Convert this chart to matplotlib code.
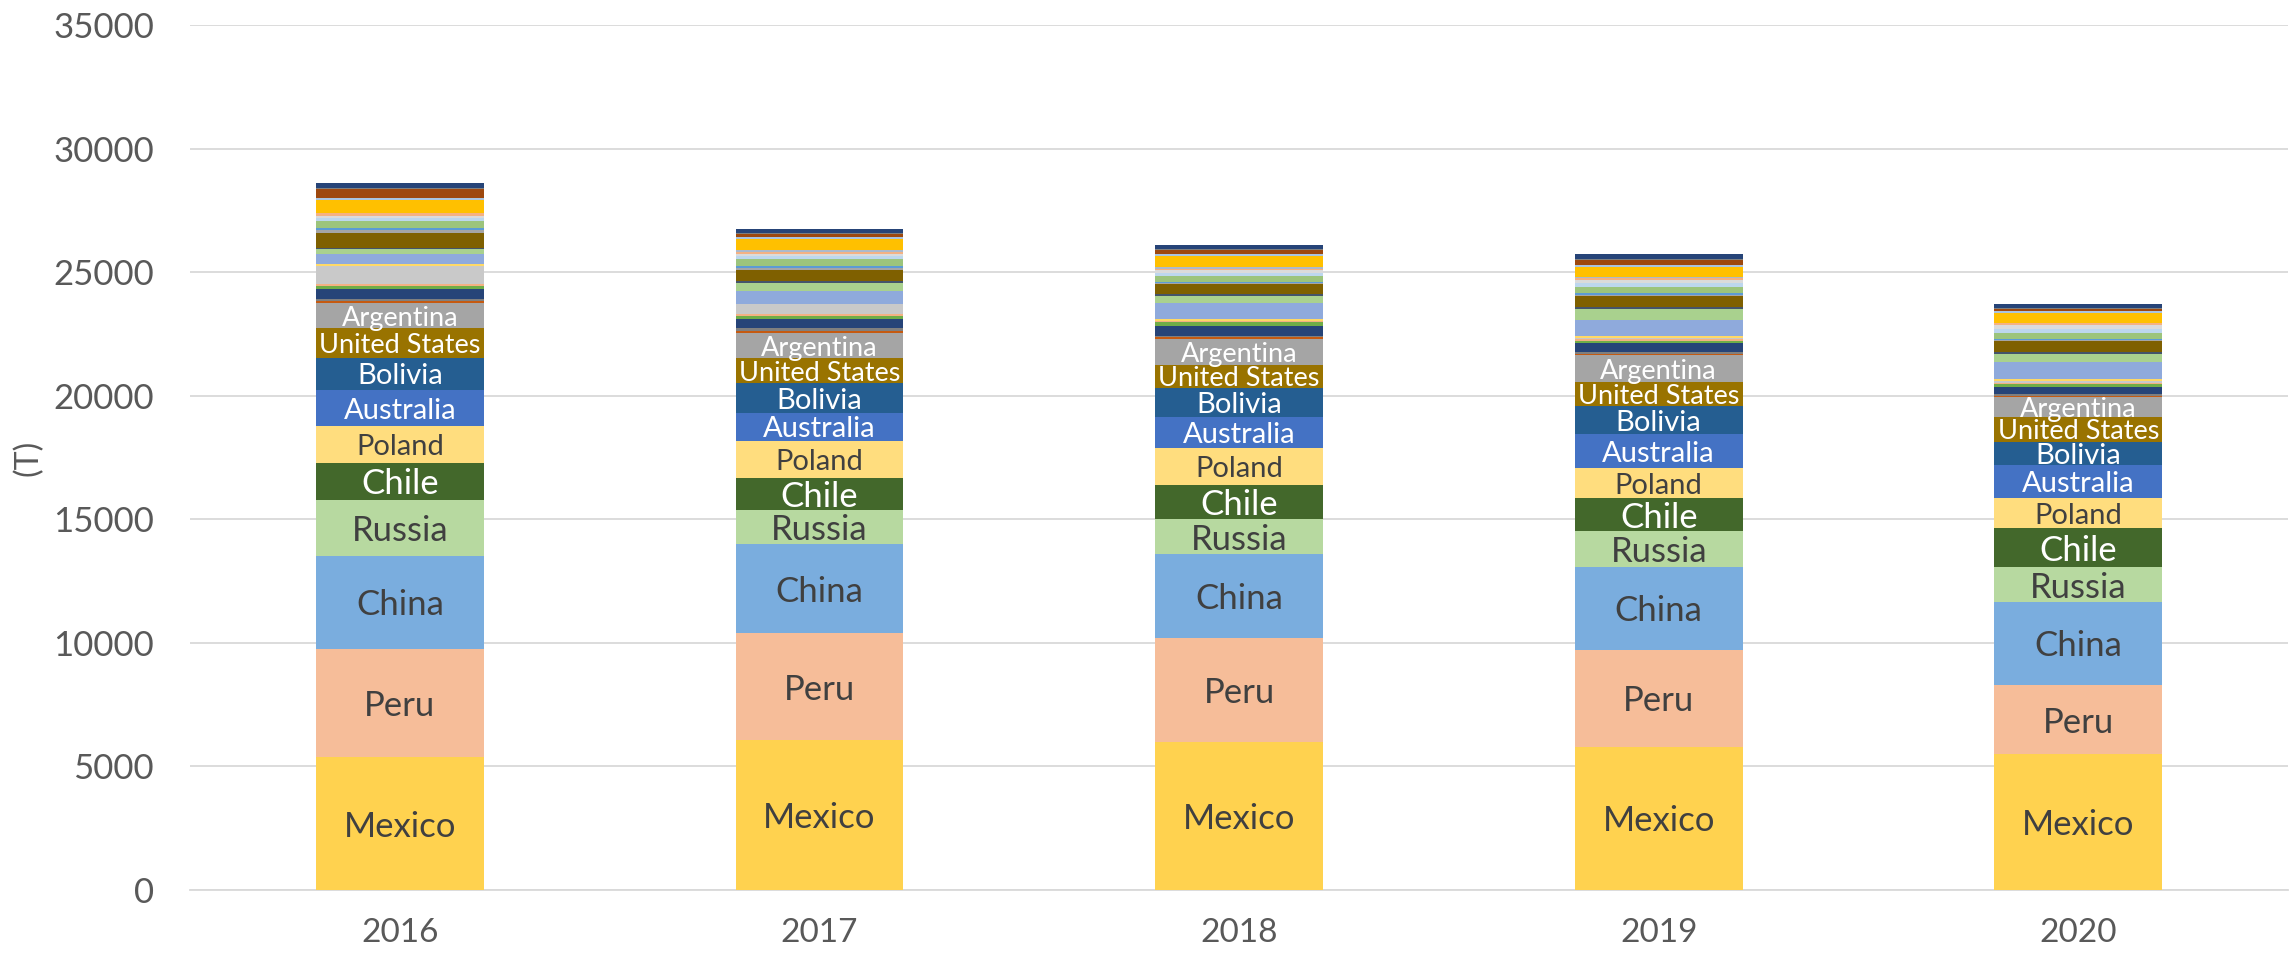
import matplotlib.pyplot as plt
import numpy as np

plt.rcParams['font.family'] = ['Lato', 'DejaVu Sans']

years = ["2016", "2017", "2018", "2019", "2020"]

# main producers, bottom to top (T)
mexico = [5365, 6065, 5997, 5806, 5499]
peru = [4383, 4318, 4184, 3909, 2792]
china = [3775, 3613, 3411, 3375, 3370]
russia = [2254, 1376, 1416, 1420, 1392]
chile = [1509, 1307, 1376, 1335, 1578]
poland = [1484, 1497, 1484, 1214, 1214]
australia = [1457, 1134, 1255, 1388, 1348]
bolivia = [1307, 1188, 1198, 1133, 943]
united_states = [1189, 1011, 918, 983, 1011]
argentina = [1037, 1037, 1040, 1068, 785]

main_names = ["Mexico", "Peru", "China", "Russia", "Chile", "Poland",
              "Australia", "Bolivia", "United States", "Argentina"]
main_values = [mexico, peru, china, russia, chile, poland,
               australia, bolivia, united_states, argentina]
main_colors = ["#FFD24F", "#F6BD99", "#7AADDE", "#B7D9A0", "#43682B", "#FFDD7E",
               "#4472C4", "#255E91", "#997300", "#A5A5A5"]
label_colors = ["#404040", "#404040", "#404040", "#404040", "white", "#404040",
                "white", "white", "white", "white"]
label_sizes = [25, 25, 25, 25, 25, 21, 21, 21, 19.5, 19.5]

# smaller producers (unlabelled), bottom to top
other_01 = [80, 80, 80, 70, 55]
other_02 = [80, 110, 55, 55, 70]
other_03 = [380, 350, 405, 365, 310]
other_04 = [135, 160, 175, 110, 110]
other_05 = [80, 70, 40, 55, 55]
other_06 = [740, 390, 0, 70, 70]
other_07 = [60, 20, 55, 70, 70]
other_08 = [430, 525, 650, 650, 690]
other_09 = [175, 310, 310, 445, 335]
other_10 = [70, 70, 70, 70, 55]
other_11 = [600, 460, 405, 430, 445]
other_12 = [110, 95, 55, 70, 50]
other_13 = [80, 55, 40, 70, 45]
other_14 = [300, 310, 245, 245, 245]
other_15 = [110, 95, 110, 175, 180]
other_16 = [95, 95, 95, 95, 130]
other_17 = [110, 70, 80, 80, 80]
other_18 = [20, 80, 70, 55, 0]
other_19 = [500, 470, 445, 405, 430]
other_20 = [70, 55, 55, 55, 70]
other_21 = [380, 110, 160, 230, 70]
other_22 = [30, 40, 40, 40, 35]
other_23 = [200, 200, 200, 200, 200]

other_values = [other_01, other_02, other_03, other_04, other_05, other_06,
                other_07, other_08, other_09, other_10, other_11, other_12,
                other_13, other_14, other_15, other_16, other_17, other_18,
                other_19, other_20, other_21, other_22, other_23]
other_colors = ["#C55A11", "#7F7F7F", "#264478", "#70AD47", "#F4B183", "#C9C9C9",
                "#FFD966", "#8FAADC", "#A9D18E", "#44546A", "#7F6000", "#A5A5A5",
                "#5B9BD5", "#9CC47C", "#BDD7EE", "#DBDBDB", "#F4B183", "#ADB9CA",
                "#FFC000", "#A9C4E0", "#9E480E", "#7F7F7F", "#264478"]

fig = plt.figure(figsize=(22.95, 9.56), dpi=100)
ax = fig.add_axes([0.0828, 0.069, 0.9142, 0.9048])

x = np.arange(len(years))
width = 0.4
bottom = np.zeros(len(years))

for name, vals, col, tcol, fs in zip(main_names, main_values, main_colors,
                                     label_colors, label_sizes):
    vals = np.array(vals, dtype=float)
    ax.bar(x, vals, width, bottom=bottom, color=col, zorder=3)
    for xi, b, v in zip(x, bottom, vals):
        ax.text(xi, b + v / 2, name, ha="center", va="center_baseline",
                color=tcol, fontsize=fs, zorder=4)
    bottom += vals

for vals, col in zip(other_values, other_colors):
    vals = np.array(vals, dtype=float)
    ax.bar(x, vals, width, bottom=bottom, color=col, zorder=3)
    bottom += vals

ax.set_xlim(-0.5, len(years) - 0.5)
ax.set_ylim(0, 35000)
ax.set_yticks(np.arange(0, 35001, 5000))
ax.set_xticks(x)
ax.set_xticklabels(years)
ax.tick_params(axis="x", length=0, labelsize=24, labelcolor="#595959", pad=20)
ax.tick_params(axis="y", length=0, labelsize=25, labelcolor="#595959", pad=26)
ax.yaxis.grid(True, color="#D9D9D9", linewidth=1.3, zorder=0)
ax.set_axisbelow(True)
for s in ["top", "right", "left"]:
    ax.spines[s].set_visible(False)
ax.spines["bottom"].set_color("#D9D9D9")
ax.spines["bottom"].set_linewidth(1.3)
ax.set_ylabel("(T)", fontsize=23, color="#595959", labelpad=7)

fig.savefig("out.png", dpi=100)
